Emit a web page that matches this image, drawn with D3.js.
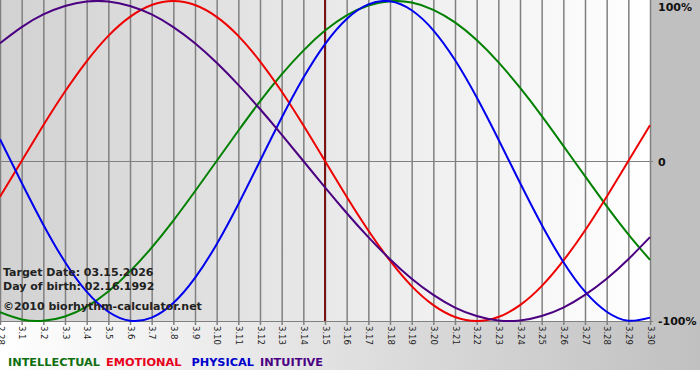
<!DOCTYPE html>
<html>
<head>
<meta charset="utf-8">
<script src="https://cdn.jsdelivr.net/npm/d3@7"></script>
<style>
  body { margin: 0; background: #fff; }
  svg { display: block; font-family: "DejaVu Sans", Verdana, sans-serif; }
</style>
</head>
<body>
<div id="chart"></div>
<script>
// dias do gráfico (2.28 até 3.30)
const dayLabels = ["2.28", "3.1", "3.2", "3.3", "3.4", "3.5", "3.6", "3.7", "3.8", "3.9", "3.10",
  "3.11", "3.12", "3.13", "3.14", "3.15", "3.16", "3.17", "3.18", "3.19", "3.20",
  "3.21", "3.22", "3.23", "3.24", "3.25", "3.26", "3.27", "3.28", "3.29", "3.30"];

// valores em %
const intellectual = [-94.5, -99.0, -99.9, -97.2, -91.0, -81.5, -69.0, -54.1, -37.2, -18.9, 0,
  18.9, 37.2, 54.1, 69.0, 81.5, 91.0, 97.2, 99.9, 99.0, 94.5,
  86.6, 75.6, 61.8, 45.8, 28.2, 9.5, -9.5, -28.2, -45.8, -61.8];
const emotional = [-22.3, 0, 22.3, 43.4, 62.3, 78.2, 90.1, 97.5, 100, 97.5, 90.1,
  78.2, 62.3, 43.4, 22.3, 0, -22.3, -43.4, -62.3, -78.2, -90.1,
  -97.5, -100, -97.5, -90.1, -78.2, -62.3, -43.4, -22.3, 0, 22.3];
const physical = [13.6, -13.6, -39.8, -63.1, -81.7, -94.2, -99.8, -97.9, -88.8, -73.1, -52.0,
  -27.0, 0, 27.0, 52.0, 73.1, 88.8, 97.9, 99.8, 94.2, 81.7,
  63.1, 39.8, 13.6, -13.6, -39.8, -63.1, -81.7, -94.2, -99.8, -97.9];
const intuitive = [73.6, 83.7, 91.6, 96.9, 99.7, 99.7, 96.9, 91.6, 83.7, 73.6, 61.4,
  47.6, 32.5, 16.5, 0, -16.5, -32.5, -47.6, -61.4, -73.6, -83.7,
  -91.6, -96.9, -99.7, -99.7, -96.9, -91.6, -83.7, -73.6, -61.4, -47.6];

const seriesNames = ["INTELLECTUAL", "EMOTIONAL", "PHYSICAL", "INTUITIVE"];
const yTicks = [100, 0, -100];
const yTickLabels = ["100%", "0", "-100%"];
const targetIndex = 15;
const infoLines = ["Target Date: 03.15.2026", "Day of birth: 02.16.1992", "\u00a92010 biorhythm-calculator.net"];

const width = 700, height = 380;
const plotW = 650, plotTop = 1, plotBottom = 321;

const svg = d3.select("#chart").append("svg")
  .attr("width", width)
  .attr("height", height);

const defs = svg.append("defs");
const gPlot = defs.append("linearGradient").attr("id", "plotBg");
gPlot.append("stop").attr("offset", "0%").attr("stop-color", "#d2d2d2");
gPlot.append("stop").attr("offset", "100%").attr("stop-color", "#ffffff");
const gBottom = defs.append("linearGradient").attr("id", "bottomBg");
gBottom.append("stop").attr("offset", "0%").attr("stop-color", "#ffffff");
gBottom.append("stop").attr("offset", "100%").attr("stop-color", "#c0c0c0");

// fundos
svg.append("rect").attr("x", 0).attr("y", 321).attr("width", width).attr("height", 49)
  .attr("fill", "url(#bottomBg)");
svg.append("rect").attr("x", plotW).attr("y", 0).attr("width", width - plotW).attr("height", 322)
  .attr("fill", "#c0c0c0");
svg.append("rect").attr("x", 0).attr("y", 0).attr("width", plotW).attr("height", plotBottom)
  .attr("fill", "url(#plotBg)");

const x = d3.scaleLinear().domain([0, dayLabels.length - 1]).range([0, plotW]);
const y = d3.scaleLinear().domain([-100, 100]).range([plotBottom, plotTop]);

// grade vertical + rótulos dos dias
const xAxis = d3.axisBottom(x)
  .tickValues(d3.range(dayLabels.length))
  .tickFormat(i => dayLabels[i])
  .tickSize(plotBottom + 4)
  .tickSizeOuter(0);

const gx = svg.append("g").call(xAxis);
gx.select(".domain").remove();
gx.selectAll(".tick line").attr("stroke", "#808080").attr("stroke-width", 1.5);
gx.selectAll(".tick text")
  .attr("transform", "rotate(90)")
  .attr("x", plotBottom + 5)
  .attr("y", 0)
  .attr("dy", "0.35em")
  .attr("text-anchor", "start")
  .attr("fill", "#222")
  .attr("font-size", 8.5)
  .attr("font-family", "'DejaVu Sans', Verdana, sans-serif");

// linhas horizontais (0 e -100%)
const gy = svg.append("g");
gy.selectAll("line").data(yTicks.filter(v => v !== 100)).enter().append("line")
  .attr("x1", 0).attr("x2", plotW + 3)
  .attr("y1", d => Math.round(y(d)) + 0.5).attr("y2", d => Math.round(y(d)) + 0.5)
  .attr("stroke", "#808080").attr("stroke-width", 1.2);

gy.selectAll("text").data(yTicks).enter().append("text")
  .attr("x", 658)
  .attr("y", d => Math.min(Math.max(y(d) + 5, 11), 325))
  .attr("font-size", 11)
  .attr("font-weight", "bold")
  .attr("fill", "#111")
  .text((d, i) => yTickLabels[i]);

// linha da data alvo
svg.append("line")
  .attr("x1", x(targetIndex)).attr("x2", x(targetIndex))
  .attr("y1", 0).attr("y2", plotBottom)
  .attr("stroke", "#7a1414").attr("stroke-width", 2);

// curvas
const colors = ["#008000", "#ee0000", "#0000ee", "#4b0082"];
const series = [intellectual, emotional, physical, intuitive];
const line = d3.line()
  .x((d, i) => x(i))
  .y(d => y(d))
  .curve(d3.curveNatural);

svg.append("g").selectAll("path").data(series).enter().append("path")
  .attr("d", line)
  .attr("fill", "none")
  .attr("stroke", (d, i) => colors[i])
  .attr("stroke-width", 2);

// texto de informação
svg.append("g").selectAll("text").data(infoLines).enter().append("text")
  .attr("x", 3)
  .attr("y", (d, i) => [276, 290, 310][i])
  .attr("font-size", 11)
  .attr("font-weight", "bold")
  .attr("fill", "#222")
  .text(d => d);

// legenda
const legendColors = ["#107010", "#e8001c", "#0000cc", "#4b0082"];
const legend = svg.append("g");
let lx = 8;
seriesNames.forEach((name, i) => {
  const t = legend.append("text")
    .attr("x", lx)
    .attr("y", 366)
    .attr("font-size", 11.3)
    .attr("font-weight", "bold")
    .attr("fill", legendColors[i])
    .text(name);
  lx += t.node().getComputedTextLength() + (i === 1 ? 10 : 6);
});
</script>
</body>
</html>
